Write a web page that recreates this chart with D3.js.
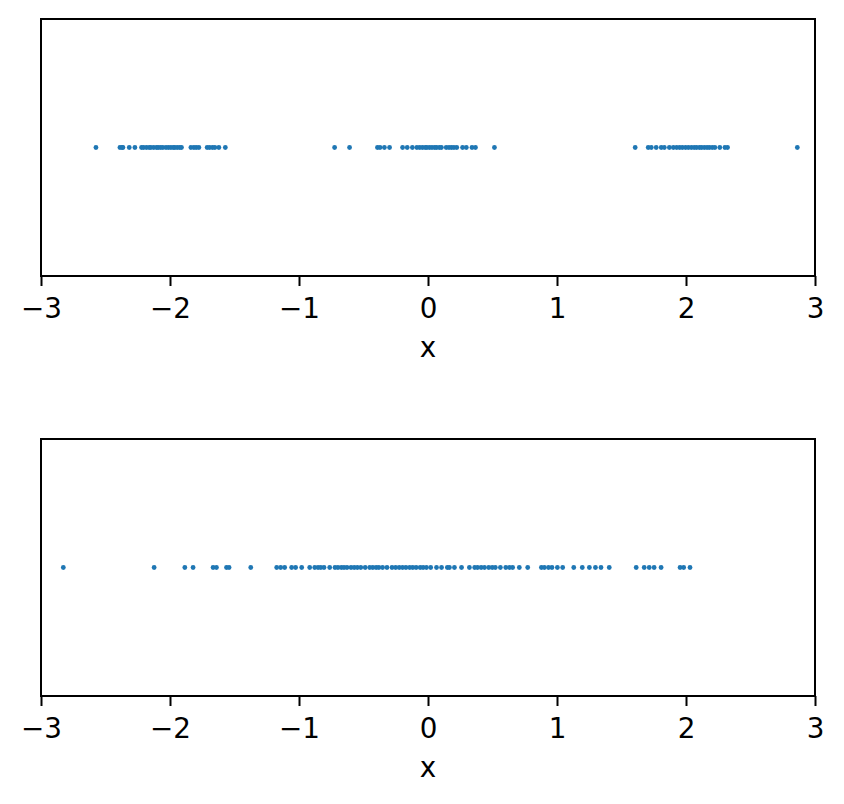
<!DOCTYPE html>
<html>
<head>
<meta charset="utf-8">
<script src="https://cdn.jsdelivr.net/npm/d3@7"></script>
<style>
  body { margin: 0; background: #fff; }
  text { font-family: "DejaVu Sans", sans-serif; }
</style>
</head>
<body>
<div id="chart-area"></div>
<script>
// top panel: three separated clusters
var topValues = [
    -2.574, -2.388, -2.372, -2.365, -2.316, -2.272, -2.221, -2.205, -2.183, -2.162,
    -2.148, -2.126, -2.104, -2.091, -2.072, -2.055, -2.031, -2.012, -1.993, -1.975,
    -1.962, -1.944, -1.925, -1.911, -1.838, -1.815, -1.797, -1.776, -1.712, -1.693,
    -1.671, -1.652, -1.621, -1.571,
    -0.724, -0.608, -0.392, -0.372, -0.338, -0.298, -0.197, -0.161, -0.121, -0.086,
    -0.064, -0.043, -0.022, -0.008, 0.012, 0.031, 0.052, 0.067, 0.088, 0.104,
    0.141, 0.163, 0.182, 0.201, 0.223, 0.268, 0.297, 0.341, 0.368, 0.515,
    1.606, 1.707, 1.731, 1.769, 1.808, 1.832, 1.871, 1.902, 1.928, 1.951,
    1.972, 1.996, 2.018, 2.041, 2.063, 2.082, 2.104, 2.121, 2.142, 2.163,
    2.181, 2.203, 2.224, 2.262, 2.302, 2.322, 2.863
];

// bottom panel: one wide spread
var bottomValues = [
    -2.827, -2.123, -1.885, -1.821, -1.666, -1.640, -1.562, -1.542, -1.374,
    -1.173, -1.142, -1.111, -1.057, -1.026, -0.979, -0.917, -0.878, -0.852, -0.831,
    -0.806, -0.762, -0.721, -0.698, -0.672, -0.651, -0.628, -0.597, -0.572, -0.548,
    -0.521, -0.487, -0.452, -0.428, -0.402, -0.381, -0.352, -0.318, -0.279, -0.251,
    -0.223, -0.197, -0.171, -0.142, -0.118, -0.092, -0.061, -0.038, -0.012, 0.021,
    0.066, 0.105, 0.150, 0.166, 0.205, 0.260, 0.321, 0.362, 0.384, 0.412,
    0.438, 0.471, 0.498, 0.522, 0.561, 0.603, 0.632, 0.656, 0.708, 0.773,
    0.879, 0.902, 0.934, 0.961, 1.003, 1.044, 1.130, 1.196, 1.251, 1.298,
    1.341, 1.405, 1.614, 1.676, 1.715, 1.753, 1.807, 1.954, 1.982, 2.031
];

var xTicks = [-3, -2, -1, 0, 1, 2, 3];
var xLabel = "x";

var width = 844, height = 804;
var left = 41, right = 815;
var fontSize = 27.8;
var panels = [
    { values: topValues, top: 19, bottom: 276 },
    { values: bottomValues, top: 439, bottom: 696 }
];

var svg = d3.select("#chart-area").append("svg")
    .attr("width", width)
    .attr("height", height);

var x = d3.scaleLinear().domain([-3, 3]).range([left, right]);

panels.forEach(function (p) {
    var y = d3.scaleLinear().domain([-1, 1]).range([p.bottom, p.top]);
    var g = svg.append("g");

    g.selectAll("circle")
        .data(p.values)
        .enter().append("circle")
        .attr("cx", (d) => x(d))
        .attr("cy", y(0))
        .attr("r", 2.4)
        .attr("fill", "#1f77b4");

    g.append("rect")
        .attr("x", left)
        .attr("y", p.top)
        .attr("width", right - left)
        .attr("height", p.bottom - p.top)
        .attr("fill", "none")
        .attr("stroke", "#000")
        .attr("stroke-width", 2);

    var axis = g.append("g")
        .attr("transform", "translate(0," + p.bottom + ")")
        .call(d3.axisBottom(x).tickValues(xTicks).tickSize(10).tickPadding(12)
            .tickFormat((d) => d < 0 ? "\u2212" + Math.abs(d) : String(d)));
    axis.select(".domain").remove();
    axis.selectAll(".tick line").attr("stroke-width", 2);
    axis.selectAll(".tick text")
        .attr("font-size", fontSize)
        .attr("font-family", "DejaVu Sans");

    g.append("text")
        .attr("x", (left + right) / 2)
        .attr("y", p.bottom + 81)
        .attr("text-anchor", "middle")
        .attr("font-size", fontSize)
        .text(xLabel);
});
</script>
</body>
</html>
